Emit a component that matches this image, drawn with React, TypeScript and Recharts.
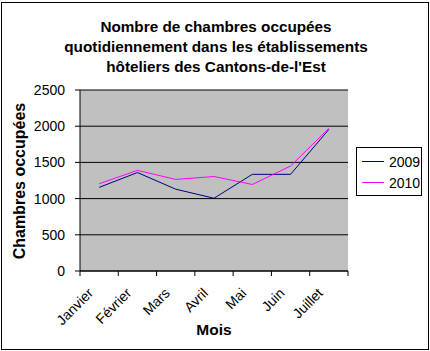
import { LineChart, Line, XAxis, YAxis, CartesianGrid, Label } from 'recharts'

const months = ['Janvier', 'Février', 'Mars', 'Avril', 'Mai', 'Juin', 'Juillet']
const rooms2009 = [1155, 1360, 1130, 1005, 1335, 1335, 1955]
const rooms2010 = [1205, 1390, 1265, 1305, 1195, 1450, 1970]
const yTicks = [0, 500, 1000, 1500, 2000, 2500]

const FONT = '"Liberation Sans", Arial, sans-serif'

const data = months.map((m, i) => ({
  pos: i + 0.5,
  month: m,
  y2009: rooms2009[i],
  y2010: rooms2010[i],
}))

const bounds = months.map((_, i) => i).concat(months.length)
const centers = months.map((_, i) => i + 0.5)

const series = [
  { key: 'y2009', name: '2009', color: '#000080' },
  { key: 'y2010', name: '2010', color: '#ff00ff' },
]

function NoTick() {
  return <g />
}

function MonthTick({ x, y, payload }: any) {
  const label = months[Math.floor(payload.value)]
  const tx = x - 5
  const ty = y + 14
  return (
    <text
      x={tx}
      y={ty}
      textAnchor="end"
      transform={`rotate(-45, ${tx}, ${ty})`}
      fontFamily={FONT}
      fontSize={14}
      fill="#000"
    >
      {label}
    </text>
  )
}

function YTitle() {
  return (
    <text
      x={25}
      y={181}
      textAnchor="middle"
      transform="rotate(-90, 25, 181)"
      fontFamily={FONT}
      fontSize={16}
      fontWeight={700}
      fill="#000"
    >
      Chambres occupées
    </text>
  )
}

function LegendBox() {
  return (
    <div
      style={{
        position: 'absolute',
        left: 356,
        top: 147,
        border: '1px solid #000',
        background: '#fff',
        width: 64,
        padding: '3px 0 2px 0',
        fontFamily: FONT,
        fontSize: 14,
      }}
    >
      {series.map((it) => (
        <div key={it.name} style={{ display: 'flex', alignItems: 'center', height: 21 }}>
          <span style={{ display: 'inline-block', width: 22, height: 0, borderTop: `1px solid ${it.color}`, marginLeft: 5, marginRight: 5 }} />
          <span>{it.name}</span>
        </div>
      ))}
    </div>
  )
}

export default function App() {
  return (
    <div style={{ position: 'absolute', left: 0, top: 0, width: 430, height: 351, background: '#fff' }}>
      <div
        style={{
          position: 'absolute',
          left: 1,
          top: 2,
          width: 426,
          height: 346,
          border: '1px solid #000',
        }}
      />
      <div
        style={{
          position: 'absolute',
          left: 0,
          top: 17,
          width: 432,
          textAlign: 'center',
          fontFamily: FONT,
          fontSize: 15.3,
          fontWeight: 700,
          lineHeight: '20px',
        }}
      >
        Nombre de chambres occupées
        <br />
        quotidiennement dans les établissements
        <br />
        hôteliers des Cantons-de-l'Est
      </div>
      <LineChart
        width={430}
        height={351}
        data={data}
        margin={{ top: 90, right: 82, bottom: 0, left: 0 }}
        style={{ position: 'absolute', left: 0, top: 0 }}
      >
        <CartesianGrid vertical={false} stroke="#000" fill="#c0c0c0" />
        <XAxis
          dataKey="pos"
          type="number"
          domain={[0, months.length]}
          ticks={bounds}
          height={1}
          tick={<NoTick />}
          tickLine={{ stroke: '#000' }}
          tickSize={5}
          axisLine={{ stroke: '#000' }}
          interval={0}
        />
        <XAxis
          xAxisId="labels"
          dataKey="pos"
          type="number"
          domain={[0, months.length]}
          ticks={centers}
          height={79}
          axisLine={false}
          tickLine={false}
          tick={<MonthTick />}
          interval={0}
        >
          <Label
            value="Mois"
            position="insideBottom"
            offset={16}
            style={{ fontFamily: FONT, fontSize: 15.5, fontWeight: 700, fill: '#000' }}
          />
        </XAxis>
        <YAxis
          domain={[0, 2500]}
          ticks={yTicks}
          width={80}
          tickSize={5}
          tickMargin={10}
          stroke="#000"
          tick={{ fontFamily: FONT, fontSize: 14, fill: '#000' }}
          interval={0}
        >
          <Label content={<YTitle />} />
        </YAxis>
        {series.map((s) => (
          <Line
            key={s.key}
            dataKey={s.key}
            name={s.name}
            stroke={s.color}
            strokeWidth={1}
            dot={false}
            isAnimationActive={false}
          />
        ))}
      </LineChart>
      <LegendBox />
    </div>
  )
}
